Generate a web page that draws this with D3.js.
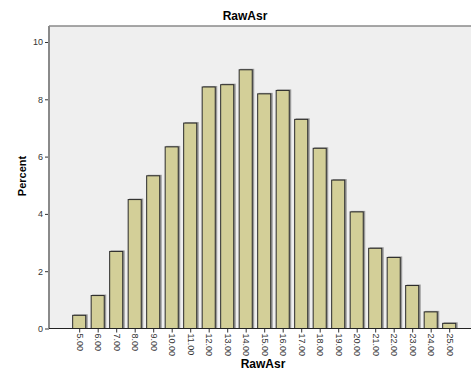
<!DOCTYPE html>
<html>
<head>
<meta charset="utf-8">
<script src="https://cdn.jsdelivr.net/npm/d3@7.9.0/dist/d3.min.js"></script>
<style>
  body { margin: 0; background: #fff; }
  svg text { font-family: "Liberation Sans", Arial, sans-serif; }
</style>
</head>
<body>
<svg id="chart" width="471" height="374"></svg>
<script>
// categories + percent values
const categories = ['5.00','6.00','7.00','8.00','9.00','10.00','11.00','12.00','13.00','14.00',
                    '15.00','16.00','17.00','18.00','19.00','20.00','21.00','22.00','23.00','24.00','25.00'];
const percents   = [0.46, 1.15, 2.69, 4.50, 5.33, 6.34, 7.17, 8.43, 8.51, 9.03,
                    8.19, 8.31, 7.30, 6.29, 5.18, 4.07, 2.80, 2.48, 1.50, 0.58, 0.18];
const yTicks     = [0, 2, 4, 6, 8, 10];

const svg = d3.select('#chart');

const plotLeft = 49, plotTop = 26, plotRight = 471, plotBottom = 328.5;

const x = d3.scaleBand()
  .domain(categories)
  .range([70.45, 458.95])
  .paddingInner(0.24)
  .paddingOuter(0.12);

const y = d3.scaleLinear()
  .domain([0, 10])
  .range([plotBottom, 42]);

// plot background
svg.append('rect')
   .attr('x', plotLeft).attr('y', plotTop)
   .attr('width', plotRight - plotLeft).attr('height', plotBottom - plotTop)
   .attr('fill', '#efefef');

// top frame
svg.append('line')
   .attr('x1', plotLeft).attr('x2', plotRight)
   .attr('y1', plotTop).attr('y2', plotTop)
   .attr('stroke', '#8a8a8a').attr('stroke-width', 1.5);

// bars (shadow then face)
const data = categories.map((c, i) => ({ cat: c, val: percents[i] }));

svg.selectAll('rect.shadow')
   .data(data)
   .join('rect')
   .attr('class', 'shadow')
   .attr('x', d => x(d.cat) + 1)
   .attr('y', d => y(d.val) - 1)
   .attr('width', x.bandwidth())
   .attr('height', d => plotBottom - y(d.val) + 1)
   .attr('fill', '#9a9a9a');

svg.selectAll('rect.bar')
   .data(data)
   .join('rect')
   .attr('class', 'bar')
   .attr('x', d => x(d.cat))
   .attr('y', d => y(d.val))
   .attr('width', x.bandwidth() - 1)
   .attr('height', d => plotBottom - y(d.val))
   .attr('fill', '#d3cf98')
   .attr('stroke', '#2a2a2a')
   .attr('stroke-width', 1);

// y axis
const yAxis = svg.append('g')
  .attr('transform', `translate(${plotLeft},0)`)
  .call(d3.axisLeft(y).tickValues(yTicks).tickSize(4).tickPadding(2));
yAxis.select('.domain').remove();
yAxis.selectAll('.tick line').attr('stroke', '#333');
yAxis.selectAll('.tick text').attr('fill', '#333').style('font-size', '9px');

svg.append('line')
   .attr('x1', plotLeft).attr('x2', plotLeft)
   .attr('y1', plotTop).attr('y2', plotBottom)
   .attr('stroke', '#8a8a8a').attr('stroke-width', 2);

// x axis
const xAxis = svg.append('g')
  .attr('transform', `translate(0,${plotBottom})`)
  .call(d3.axisBottom(x).tickSize(4).tickSizeOuter(0));
xAxis.select('.domain').remove();
xAxis.selectAll('.tick line').attr('stroke', '#333');
xAxis.selectAll('.tick text')
     .attr('fill', '#333')
     .style('font-size', '9px')
     .attr('transform', 'rotate(90)')
     .attr('x', 5)
     .attr('y', 0)
     .attr('dy', '0.35em')
     .attr('text-anchor', 'start');

svg.append('line')
   .attr('x1', plotLeft).attr('x2', plotRight)
   .attr('y1', plotBottom).attr('y2', plotBottom)
   .attr('stroke', '#222').attr('stroke-width', 1.2);

// titles
svg.append('text')
   .attr('x', 245).attr('y', 20)
   .attr('text-anchor', 'middle')
   .style('font-size', '12px').style('font-weight', 'bold')
   .text('RawAsr');

svg.append('text')
   .attr('x', 263).attr('y', 368)
   .attr('text-anchor', 'middle')
   .style('font-size', '12px').style('font-weight', 'bold')
   .text('RawAsr');

svg.append('text')
   .attr('transform', 'translate(26,176) rotate(-90)')
   .attr('text-anchor', 'middle')
   .style('font-size', '11px').style('font-weight', 'bold')
   .text('Percent');
</script>
</body>
</html>
